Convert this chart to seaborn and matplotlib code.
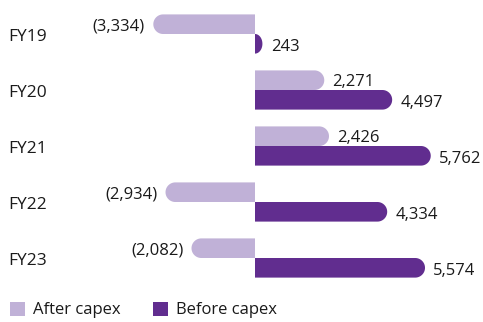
import numpy as np
import pandas as pd
import matplotlib
matplotlib.use("Agg")
import matplotlib.pyplot as plt
import matplotlib.transforms as mtransforms
from matplotlib.patches import PathPatch, Patch
from matplotlib.path import Path
import seaborn as sns

# Data
years = ["FY19", "FY20", "FY21", "FY22", "FY23"]
after_capex = [-3334, 2271, 2426, -2934, -2082]
before_capex = [243, 4497, 5762, 4334, 5574]
series = ["After capex", "Before capex"]
colors = ["#c0b1d7", "#612d8f"]

df = pd.DataFrame({
    "year": years * 2,
    "value": after_capex + before_capex,
    "series": [series[0]] * len(years) + [series[1]] * len(years),
})

sns.set_style("white")
plt.rcParams["font.family"] = ["Open Sans", "DejaVu Sans"]

W, H = 483, 322
fig = plt.figure(figsize=(W / 100, H / 100), dpi=100)
# axes in pixel terms: left 60, right 483, top 0, bottom 290
ax = fig.add_axes([60 / W, 1 - 290 / H, (W - 60) / W, 290 / H])

sns.barplot(data=df, x="value", y="year", hue="series", orient="h",
            palette=colors, width=0.7, saturation=1, legend=False, ax=ax)

px_per_unit = 0.0305
x0 = 255 - 60
ax.set_xlim(-x0 / px_per_unit, (W - 60 - x0) / px_per_unit)
ax.set_ylim((290 - 34) / 56, -34 / 56)

sns.despine(ax=ax, left=True, bottom=True)
ax.set_xticks([])
ax.set_xlabel("")
ax.set_ylabel("")
ax.tick_params(axis="y", length=0, pad=9.5, labelsize=12.5, labelcolor="#1a1a1a")
# year labels sit a little below the middle of each bar pair
shift = mtransforms.ScaledTranslation(0, -1 / 72, fig.dpi_scale_trans)
for lbl in ax.get_yticklabels():
    lbl.set_transform(lbl.get_transform() + shift)

# replace seaborn's bars with single shapes rounded at the outer end
fig.canvas.draw()
ux = np.diff(ax.transData.transform([(0, 0), (1, 0)]), axis=0)[0][0]
uy = abs(np.diff(ax.transData.transform([(0, 0), (0, 1)]), axis=0)[0][1])
for p in list(ax.patches):
    x, y, w, h = p.get_x(), p.get_y(), p.get_width(), p.get_height()
    fc = p.get_facecolor()
    p.set_visible(False)
    ry = h / 2
    rx = min(ry * uy / ux, abs(w))
    sgn = 1 if w >= 0 else -1
    end = x + w
    yc = y + h / 2
    t = np.linspace(-np.pi / 2, np.pi / 2, 40)
    ax_pts = end - sgn * rx + sgn * rx * np.cos(t)
    ay_pts = yc + ry * np.sin(t)
    verts = [(x, y)] + list(zip(ax_pts, ay_pts)) + [(x, y + h), (x, y)]
    codes = [Path.MOVETO] + [Path.LINETO] * (len(verts) - 2) + [Path.CLOSEPOLY]
    ax.add_patch(PathPatch(Path(verts, codes), fc=fc, ec="none"))

# value labels
for i, yr in enumerate(years):
    for j, vals in enumerate([after_capex, before_capex]):
        v = vals[i]
        yc = i + (j - 0.5) * 0.35
        txt = f"({abs(v):,})" if v < 0 else f"{v:,}"
        ax.annotate(txt, (v, yc), xytext=(6 if v >= 0 else -6, -1.5 - j),
                    textcoords="offset points", va="center",
                    ha="left" if v >= 0 else "right",
                    fontsize=12, color="#1a1a1a")

handles = [Patch(fc=c, ec="none") for c in colors]
fig.legend(handles, series, loc="lower left", bbox_to_anchor=(0, -0.02),
           ncol=2, frameon=False, fontsize=12, handlelength=0.9,
           handleheight=0.9, handletextpad=0.5, columnspacing=1.9,
           borderaxespad=0.2, labelcolor="#1a1a1a")

fig.savefig("out.png", dpi=100)
